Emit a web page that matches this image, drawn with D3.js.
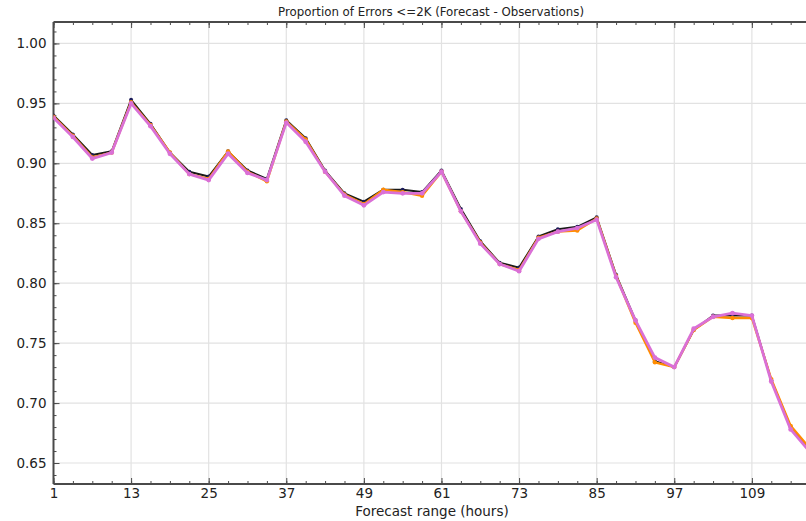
<!DOCTYPE html>
<html>
<head>
<meta charset="utf-8">
<script src="https://cdn.jsdelivr.net/npm/d3@7"></script>
<style>
  html, body { margin: 0; padding: 0; background: #fff; }
  svg { display: block; font-family: "DejaVu Sans", sans-serif; }
</style>
</head>
<body>
<svg id="chart" width="806" height="521"></svg>
<script>
// Forecast lead times (hours), every 3 h
const leadHours = [1, 4, 7, 10, 13, 16, 19, 22, 25, 28, 31, 34, 37, 40, 43, 46, 49, 52, 55, 58,
                   61, 64, 67, 70, 73, 76, 79, 82, 85, 88, 91, 94, 97, 100, 103, 106, 109, 112, 115, 118];

// Proportion of |forecast - observation| <= 2K, one array per run
const runBlack = [0.940, 0.924, 0.907, 0.910, 0.953, 0.933, 0.909, 0.893, 0.889, 0.910,
                  0.894, 0.887, 0.936, 0.921, 0.894, 0.875, 0.868, 0.878, 0.878, 0.876,
                  0.894, 0.862, 0.835, 0.817, 0.813, 0.839, 0.845, 0.847, 0.855, 0.807,
                  0.769, 0.735, 0.730, 0.761, 0.773, 0.773, 0.773, 0.719, 0.680, 0.661];
const runOrange = [0.939, 0.923, 0.905, 0.909, 0.951, 0.932, 0.909, 0.891, 0.887, 0.910,
                   0.893, 0.885, 0.935, 0.920, 0.893, 0.874, 0.866, 0.878, 0.876, 0.873,
                   0.893, 0.860, 0.834, 0.816, 0.811, 0.838, 0.843, 0.844, 0.854, 0.806,
                   0.767, 0.734, 0.730, 0.761, 0.772, 0.771, 0.771, 0.720, 0.681, 0.662];
const runOrchid = [0.938, 0.922, 0.904, 0.909, 0.950, 0.931, 0.908, 0.891, 0.886, 0.908,
                   0.892, 0.886, 0.934, 0.918, 0.893, 0.873, 0.865, 0.876, 0.875, 0.875,
                   0.893, 0.860, 0.833, 0.816, 0.810, 0.837, 0.843, 0.846, 0.853, 0.805,
                   0.769, 0.738, 0.730, 0.762, 0.772, 0.775, 0.773, 0.718, 0.678, 0.659];

const xMajorTicks = [1, 13, 25, 37, 49, 61, 73, 85, 97, 109];
const yMajorTicks = [0.65, 0.70, 0.75, 0.80, 0.85, 0.90, 0.95, 1.00];

const titleText = "Proportion of Errors <=2K (Forecast - Observations)";
const xTitleText = "Forecast range (hours)";

const series = [
  { values: runBlack,  line: "#1a1a1a", dot: "#1c1c5a", width: 2.0, r: 2.0 },
  { values: runOrange, line: "#ff8c00", dot: "#ff8c00", width: 2.4, r: 2.2 },
  { values: runOrchid, line: "#da70d6", dot: "#da70d6", width: 2.8, r: 2.4 }
];

const svg = d3.select("#chart");
const plotLeft = 53.5, plotTop = 22, plotBottom = 484, plotRight = 823;

const x = d3.scaleLinear().domain([1, 120]).range([plotLeft, plotRight]);
const y = d3.scaleLinear().domain([0.6325, 1.0179]).range([plotBottom, plotTop]);

svg.append("defs").append("clipPath").attr("id", "plotClip")
  .append("rect").attr("x", plotLeft).attr("y", plotTop)
  .attr("width", plotRight - plotLeft).attr("height", plotBottom - plotTop);

// grid
const grid = svg.append("g");
grid.selectAll("line.h").data(yMajorTicks).join("line")
  .attr("x1", plotLeft).attr("x2", plotRight)
  .attr("y1", d => y(d)).attr("y2", d => y(d))
  .attr("stroke", "#e2e2e2").attr("stroke-width", 1.2);
grid.selectAll("line.v").data(xMajorTicks.slice(1)).join("line")
  .attr("x1", d => x(d)).attr("x2", d => x(d))
  .attr("y1", plotTop).attr("y2", plotBottom)
  .attr("stroke", "#e2e2e2").attr("stroke-width", 1.2);

// axes: ticks pointing into the plot
const xMinor = d3.range(1, 121, 3);
const yMinor = d3.range(0.64, 1.015, 0.01).map(v => +v.toFixed(2));

const axisColor = "#4a4a4a";
function styleAxis(g) {
  g.select(".domain").remove();
  g.selectAll(".tick line").attr("stroke", axisColor).attr("stroke-width", 1);
}

// bottom
svg.append("g").attr("transform", `translate(0,${plotBottom})`)
  .call(d3.axisBottom(x).tickValues(xMinor).tickSize(-3).tickFormat(""))
  .call(styleAxis);
const xb = svg.append("g").attr("transform", `translate(0,${plotBottom})`)
  .call(d3.axisBottom(x).tickValues(xMajorTicks).tickSize(-6).tickPadding(4).tickFormat(d3.format("d")))
  .call(styleAxis);
xb.selectAll("text").attr("font-size", 13.5).attr("fill", "#222")
  .attr("font-family", "DejaVu Sans, sans-serif");

// top
svg.append("g").attr("transform", `translate(0,${plotTop})`)
  .call(d3.axisTop(x).tickValues(xMinor).tickSize(-3).tickFormat(""))
  .call(styleAxis);
svg.append("g").attr("transform", `translate(0,${plotTop})`)
  .call(d3.axisTop(x).tickValues(xMajorTicks).tickSize(-6).tickFormat(""))
  .call(styleAxis);

// left
svg.append("g").attr("transform", `translate(${plotLeft},0)`)
  .call(d3.axisLeft(y).tickValues(yMinor).tickSize(-3).tickFormat(""))
  .call(styleAxis);
const yl = svg.append("g").attr("transform", `translate(${plotLeft},0)`)
  .call(d3.axisLeft(y).tickValues(yMajorTicks).tickSize(-6).tickPadding(7).tickFormat(d3.format(".2f")))
  .call(styleAxis);
yl.selectAll("text").attr("font-size", 13.5).attr("fill", "#222")
  .attr("font-family", "DejaVu Sans, sans-serif");

// frame lines
svg.append("line").attr("x1", plotLeft).attr("x2", plotRight).attr("y1", plotBottom).attr("y2", plotBottom)
  .attr("stroke", axisColor).attr("stroke-width", 2);
svg.append("line").attr("x1", plotLeft).attr("x2", plotRight).attr("y1", plotTop).attr("y2", plotTop)
  .attr("stroke", axisColor).attr("stroke-width", 2);
svg.append("line").attr("x1", plotLeft).attr("x2", plotLeft).attr("y1", plotTop).attr("y2", plotBottom)
  .attr("stroke", axisColor).attr("stroke-width", 2);

// series
const plot = svg.append("g").attr("clip-path", "url(#plotClip)");
const lineGen = d3.line().x(d => x(d[0])).y(d => y(d[1]));
series.forEach(s => {
  const pts = leadHours.map((h, i) => [h, s.values[i]]);
  const g = plot.append("g");
  g.append("path").datum(pts).attr("d", lineGen)
    .attr("fill", "none").attr("stroke", s.line).attr("stroke-width", s.width)
    .attr("stroke-linejoin", "round");
  g.selectAll("circle").data(pts).join("circle")
    .attr("cx", d => x(d[0])).attr("cy", d => y(d[1])).attr("r", s.r)
    .attr("fill", s.dot);
});

// titles
svg.append("text").attr("x", 431).attr("y", 16).attr("text-anchor", "middle")
  .attr("font-size", 11.8).attr("fill", "#222").text(titleText);
svg.append("text").attr("x", 432).attr("y", 516).attr("text-anchor", "middle")
  .attr("font-size", 13.5).attr("fill", "#222").text(xTitleText);
</script>
</body>
</html>
